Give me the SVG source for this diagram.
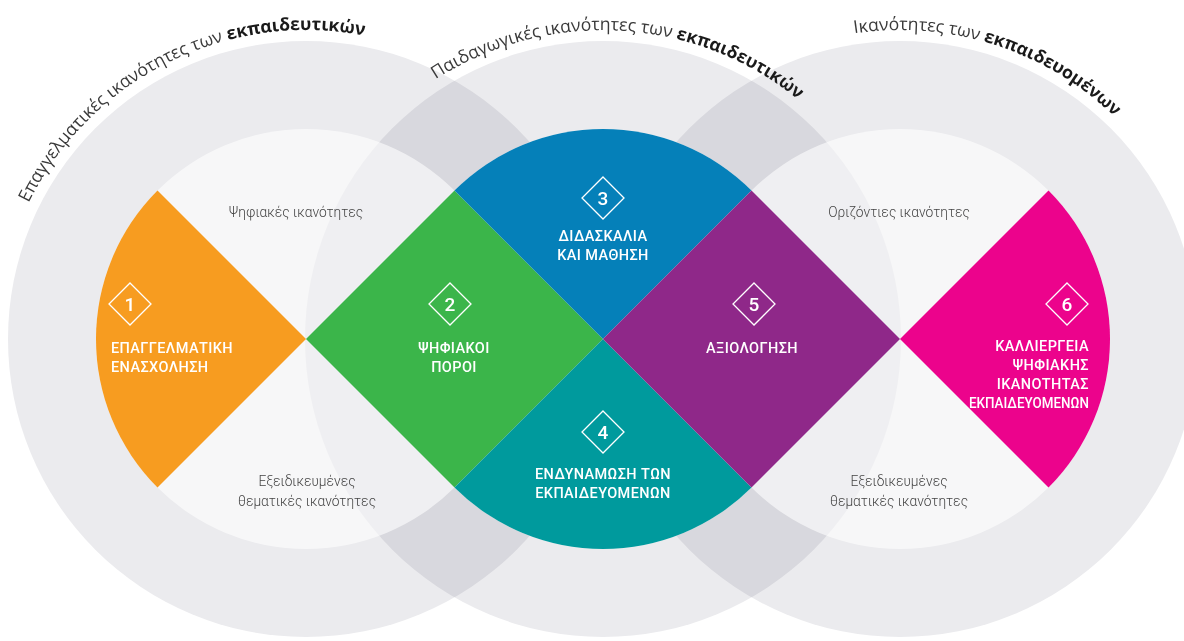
<svg xmlns="http://www.w3.org/2000/svg" width="1184" height="641" viewBox="0 0 1184 641">
<style>
.outer{fill:#ebebee;mix-blend-mode:multiply}
.inner{fill:#ffffff;fill-opacity:0.6}
.num{fill:none;stroke:#ffffff;stroke-width:1.3}
.numt{font-family:Roboto,"Liberation Sans",sans-serif;font-weight:500;font-size:19px;fill:#ffffff;text-anchor:middle}
.lbl{font-family:Roboto,"Liberation Sans",sans-serif;font-weight:500;font-size:14.5px;fill:#ffffff;letter-spacing:0.4px}
.gray{font-family:Roboto,"Liberation Sans",sans-serif;font-weight:300;font-size:13.8px;fill:#444444;text-anchor:middle}
.title{font-family:"Open Sans","Noto Sans",sans-serif;font-size:17.6px;fill:#3a3a3a}
.title .b{font-weight:700;fill:#1a1a1a}
</style>
<defs>
<path id="arcL" d="M1.7,392.7 A309,309 0 0 1 532,128.3"/>
<path id="arcM" d="M310,241 A309,309 0 0 1 902.1,261.6"/>
<path id="arcR" d="M642.3,168.5 A309,309 0 0 1 1209,341.7"/>
</defs>
<rect width="1184" height="641" fill="#ffffff"/>
<g id="rings">
<circle class="outer" cx="306" cy="339" r="298"/>
<circle class="outer" cx="603" cy="339" r="298"/>
<circle class="outer" cx="900" cy="339" r="298"/>
<circle class="inner" cx="306" cy="339" r="210"/>
<circle class="inner" cx="603" cy="339" r="210"/>
<circle class="inner" cx="900" cy="339" r="210"/>
</g>
<g id="titles">
<text class="title"><textPath href="#arcL" startOffset="50%" text-anchor="middle">Επαγγελματικές ικανότητες των <tspan class="b">εκπαιδευτικών</tspan></textPath></text>
<text class="title"><textPath href="#arcM" startOffset="50.8%" text-anchor="middle">Παιδαγωγικές ικανότητες των <tspan class="b">εκπαιδευτικών</tspan></textPath></text>
<text class="title"><textPath href="#arcR" startOffset="50.5%" text-anchor="middle">Ικανότητες των <tspan class="b">εκπαιδευομένων</tspan></textPath></text>
</g>
<g id="gray-labels">
<text class="gray" x="296" y="217">Ψηφιακές ικανότητες</text>
<text class="gray" x="307" y="486">Εξειδικευμένες</text>
<text class="gray" x="307" y="506">θεματικές ικανότητες</text>
<text class="gray" x="899" y="217">Οριζόντιες ικανότητες</text>
<text class="gray" x="899" y="486">Εξειδικευμένες</text>
<text class="gray" x="899" y="506">θεματικές ικανότητες</text>
</g>
<g id="node1">
<path fill="#f79c20" d="M306,339 L157.5,190.5 A210,210 0 0 0 157.5,487.5 Z"/>
<path class="num" d="M130,283 L151,304 L130,325 L109,304 Z"/>
<text class="numt" x="130" y="311">1</text>
<text class="lbl" x="111" y="353">ΕΠΑΓΓΕΛΜΑΤΙΚΗ</text>
<text class="lbl" x="111" y="372">ΕΝΑΣΧΟΛΗΣΗ</text>
</g>
<g id="node2">
<path fill="#3bb54a" d="M306,339 L454.5,190.5 L603,339 L454.5,487.5 Z"/>
<path class="num" d="M450,283 L471,304 L450,325 L429,304 Z"/>
<text class="numt" x="450" y="311">2</text>
<text class="lbl" x="454" y="353" text-anchor="middle">ΨΗΦΙΑΚΟΙ</text>
<text class="lbl" x="454" y="372" text-anchor="middle">ΠΟΡΟΙ</text>
</g>
<g id="node3">
<path fill="#0580b9" d="M603,339 L454.5,190.5 A210,210 0 0 1 751.5,190.5 Z"/>
<path class="num" d="M603,177 L624,198 L603,219 L582,198 Z"/>
<text class="numt" x="603" y="205">3</text>
<text class="lbl" x="603" y="241" text-anchor="middle">ΔΙΔΑΣΚΑΛΙΑ</text>
<text class="lbl" x="603" y="260" text-anchor="middle">ΚΑΙ ΜΑΘΗΣΗ</text>
</g>
<g id="node4">
<path fill="#009a9d" d="M603,339 L751.5,487.5 A210,210 0 0 1 454.5,487.5 Z"/>
<path class="num" d="M603,411 L624,432 L603,453 L582,432 Z"/>
<text class="numt" x="603" y="439">4</text>
<text class="lbl" x="603" y="479" text-anchor="middle">ΕΝΔΥΝΑΜΩΣΗ ΤΩΝ</text>
<text class="lbl" x="603" y="498" text-anchor="middle">ΕΚΠΑΙΔΕΥΟΜΕΝΩΝ</text>
</g>
<g id="node5">
<path fill="#8f2889" d="M603,339 L751.5,190.5 L900,339 L751.5,487.5 Z"/>
<path class="num" d="M754,283 L775,304 L754,325 L733,304 Z"/>
<text class="numt" x="754" y="311">5</text>
<text class="lbl" x="752" y="353" text-anchor="middle">ΑΞΙΟΛΟΓΗΣΗ</text>
</g>
<g id="node6">
<path fill="#ec038c" d="M900,339 L1048.5,190.5 A210,210 0 0 1 1048.5,487.5 Z"/>
<path class="num" d="M1067,283 L1088,304 L1067,325 L1046,304 Z"/>
<text class="numt" x="1067" y="311">6</text>
<text class="lbl" x="1089" y="351" text-anchor="end">ΚΑΛΛΙΕΡΓΕΙΑ</text>
<text class="lbl" x="1089" y="370" text-anchor="end">ΨΗΦΙΑΚΗΣ</text>
<text class="lbl" x="1089" y="389" text-anchor="end">ΙΚΑΝΟΤΗΤΑΣ</text>
<text class="lbl" x="1089" y="408" text-anchor="end" textLength="120" lengthAdjust="spacingAndGlyphs" style="letter-spacing:0">ΕΚΠΑΙΔΕΥΟΜΕΝΩΝ</text>
</g>
</svg>
